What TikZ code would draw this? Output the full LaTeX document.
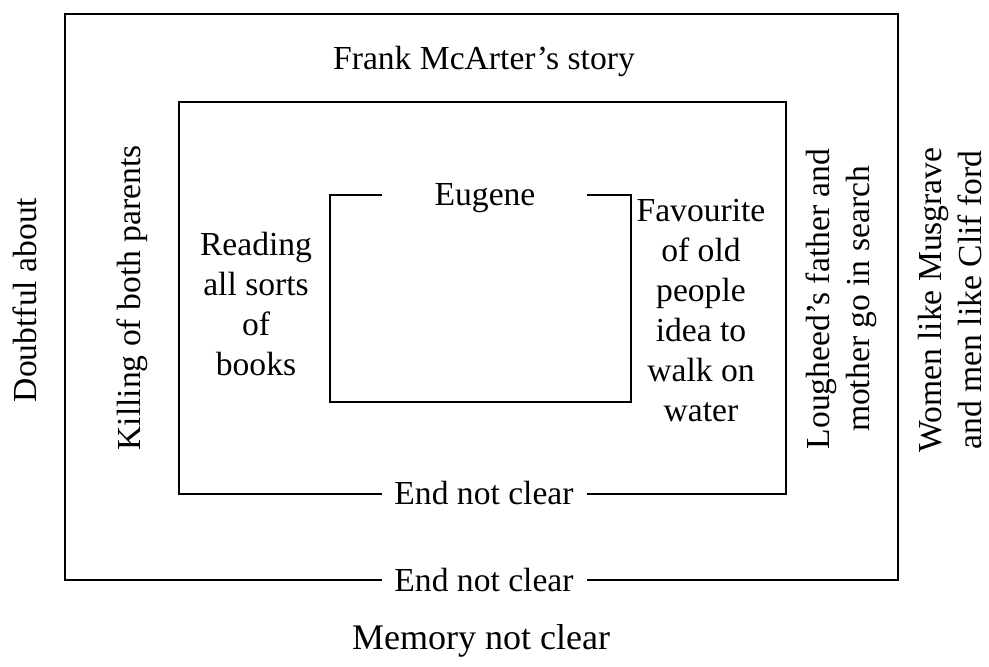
\documentclass[tikz,border=0pt]{standalone}
\usepackage{fontspec}
\setmainfont{Liberation Serif}
\usepackage{tikz}
\usetikzlibrary{positioning,calc}

\begin{document}
\begin{tikzpicture}[
    x=0.5pt, y=-0.5pt,
    txt/.style={inner sep=1pt, align=center, font=\fontsize{16.8}{20}\selectfont},
    vtxt/.style={txt, rotate=90},
    frame/.style={line width=1.1pt, line join=miter}
]
    \useasboundingbox (0,0) rectangle (989,667);

    % labels
    \node [txt] (story) at (484,61) {Frank McArter's story};
    \node [txt, font=\fontsize{18}{21}\selectfont] (memory) at (481,641) {Memory not clear};
    \node [txt] (endout) at (484,580) {End not clear};
    \node [txt] (endmid) at (484,493) {End not clear};
    \node [txt] (eugene) at (485,198) {Eugene};
    \node [vtxt] (doubt) at (25,300) {Doubtful about};
    \node [vtxt] (killing) at (132,298) {Killing of both parents};
    \node [vtxt] (search) at (841,299) {Lougheed's father and\\mother go in search};
    \node [vtxt] (women) at (950,300) {Women like Musgrave\\and men like Clif ford};
    \node [txt] (reading) at (256,304) {Reading\\all sorts\\of\\books};
    \node [txt] (favour) at (701,311) {Favourite\\of old\\people\\idea to\\walk on\\water};

    % boxes
    \draw [frame] (382,580) -| (65,14) -| (898,580) -- (587,580);
    \draw [frame] (382,494) -| (179,102) -| (786,494) -- (587,494);
    \draw [frame] (382,195) -| (330,402) -| (631,195) -- (587,195);
\end{tikzpicture}
\end{document}
